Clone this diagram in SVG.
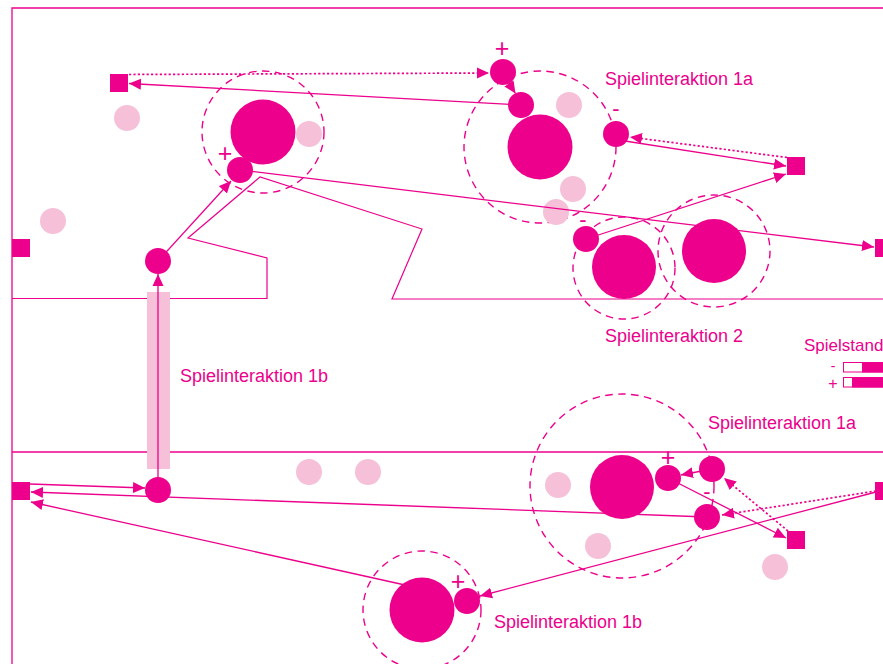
<svg xmlns="http://www.w3.org/2000/svg" width="883" height="664" viewBox="0 0 883 664">
<defs>
<style>
.ln{stroke:#EC008C;stroke-width:1.3;fill:none}
.dot{stroke:#EC008C;stroke-width:1.7;stroke-dasharray:2.2 2.2;fill:none}
.dc{stroke:#EC008C;stroke-width:1.4;stroke-dasharray:7.5 5.5;fill:none}
.pc{fill:#F6C1D8}
.mc{fill:#EC008C}
.lbl{font-family:"Liberation Sans",Arial,sans-serif;font-size:18px;fill:#EC008C}
.sg{font-family:"Liberation Sans",Arial,sans-serif;font-size:25px;fill:#EC008C;text-anchor:middle}
.mn{font-family:"Liberation Sans",Arial,sans-serif;font-size:22px;fill:#EC008C;text-anchor:middle}
.lg{font-family:"Liberation Sans",Arial,sans-serif;fill:#EC008C;text-anchor:middle}
.ar{marker-end:url(#ah)}
</style>
<marker id="ah" viewBox="0 0 12 12" refX="12" refY="6" markerWidth="12" markerHeight="12" markerUnits="userSpaceOnUse" orient="auto">
<path d="M0,0.5 L12,6 L0,11.5 z" fill="#EC008C"/>
</marker>
</defs>
<rect width="883" height="664" fill="#ffffff"/>

<g id="frame">
<path class="ln" d="M12,664 L12,8 L883,8"/>
<path class="ln" d="M12,452 L883,452"/>
<path d="M12,298.5 L267,298.5 L267,258 L188,238 L260,177 L422,229 L392,299 L883,299" fill="none" stroke="#EC008C" stroke-width="1.2"/>
</g>

<g id="bar1b"><rect x="147" y="292" width="23" height="177" fill="#F6C1D8"/></g>

<g id="zones">
<circle class="dc" cx="263" cy="132" r="61"/>
<circle class="dc" cx="540" cy="147" r="76"/>
<circle class="dc" cx="624" cy="268" r="51"/>
<circle class="dc" cx="714" cy="251" r="56"/>
<circle class="dc" cx="622" cy="486" r="92"/>
<circle class="dc" cx="422" cy="610" r="59"/>
</g>

<g id="pinks">
<circle class="pc" cx="127" cy="118" r="13"/>
<circle class="pc" cx="309" cy="134" r="13"/>
<circle class="pc" cx="53" cy="221" r="13"/>
<circle class="pc" cx="569" cy="105" r="13"/>
<circle class="pc" cx="573" cy="189" r="13"/>
<circle class="pc" cx="556" cy="212" r="13"/>
<circle class="pc" cx="309" cy="472" r="13"/>
<circle class="pc" cx="368" cy="472" r="13"/>
<circle class="pc" cx="558" cy="485" r="13"/>
<circle class="pc" cx="598" cy="546" r="13"/>
<circle class="pc" cx="775" cy="567" r="13"/>
</g>

<g id="connectors">
<line class="dot ar" x1="129" y1="74.5" x2="489" y2="73"/>
<line class="ln ar" x1="521" y1="105" x2="129" y2="83.5"/>
<line class="ln ar" x1="508" y1="82" x2="515.5" y2="93.5"/>
<line class="dot ar" x1="787" y1="157.5" x2="630" y2="137"/>
<line class="ln ar" x1="612" y1="139" x2="786" y2="166"/>
<line class="ln ar" x1="586" y1="239" x2="786" y2="174"/>
<line class="ln ar" x1="240" y1="170" x2="874" y2="247"/>
<line class="ln ar" x1="158" y1="261" x2="231" y2="181"/>
<line class="ln ar" x1="158" y1="490" x2="158" y2="274"/>
<line class="ln ar" x1="30" y1="484" x2="145" y2="488"/>
<line class="ln ar" x1="707" y1="517" x2="31" y2="492"/>
<line class="ln ar" x1="405" y1="585" x2="31" y2="502"/>
<line class="ln ar" x1="876" y1="492" x2="480" y2="596"/>
<line class="dot ar" x1="876" y1="491" x2="722" y2="515"/>
<line class="ln ar" x1="712" y1="469" x2="681" y2="475"/>
<line class="ln ar" x1="668" y1="478" x2="786" y2="538"/>
<line class="dot ar" x1="788" y1="531" x2="724" y2="478"/>
</g>

<g id="sq-tl"><rect class="mc" x="110" y="74" width="18" height="18"/></g>
<g id="sq-l1"><rect class="mc" x="12" y="239" width="18" height="18"/></g>
<g id="sq-tr"><rect class="mc" x="787" y="157" width="18" height="18"/></g>
<g id="sq-r1"><rect class="mc" x="875" y="239" width="18" height="18"/></g>
<g id="sq-bl"><rect class="mc" x="12" y="482" width="18" height="18"/></g>
<g id="sq-r2"><rect class="mc" x="875" y="482" width="18" height="18"/></g>
<g id="sq-br"><rect class="mc" x="787" y="531" width="18" height="18"/></g>

<g id="ball1"><circle class="mc" cx="263" cy="132" r="32.5"/></g>
<g id="ball2"><circle class="mc" cx="540" cy="147" r="32.5"/></g>
<g id="ball3"><circle class="mc" cx="624" cy="267" r="32"/></g>
<g id="ball4"><circle class="mc" cx="714" cy="251" r="32"/></g>
<g id="ball5"><circle class="mc" cx="622" cy="487" r="32"/></g>
<g id="ball6"><circle class="mc" cx="422" cy="610" r="32.5"/></g>

<g id="p1"><circle class="mc" cx="240" cy="170" r="13"/><text class="sg" x="225" y="162">+</text></g>
<g id="p2"><circle class="mc" cx="158" cy="261" r="13"/></g>
<g id="p3"><circle class="mc" cx="503" cy="72" r="13"/><text class="sg" x="502" y="57">+</text></g>
<g id="p4"><circle class="mc" cx="521" cy="105" r="13"/></g>
<g id="p5"><circle class="mc" cx="616" cy="134" r="13"/><text class="mn" x="616" y="116">-</text></g>
<g id="p6"><circle class="mc" cx="586" cy="239" r="13"/><text class="mn" x="583" y="227">-</text></g>
<g id="p7"><circle class="mc" cx="158" cy="490" r="13"/></g>
<g id="p8"><circle class="mc" cx="668" cy="478" r="13"/><text class="sg" x="668" y="466">+</text></g>
<g id="p9"><circle class="mc" cx="712" cy="469" r="13"/></g>
<g id="p10"><circle class="mc" cx="707" cy="517" r="13"/><text class="mn" x="707" y="499">-</text></g>
<g id="p11"><circle class="mc" cx="467" cy="601" r="13"/><text class="sg" x="458" y="590">+</text></g>

<g id="labels">
<text class="lbl" x="605" y="85">Spielinteraktion 1a</text>
<text class="lbl" x="605" y="342">Spielinteraktion 2</text>
<text class="lbl" x="180" y="382">Spielinteraktion 1b</text>
<text class="lbl" x="708" y="429">Spielinteraktion 1a</text>
<text class="lbl" x="494" y="628">Spielinteraktion 1b</text>
</g>

<g id="legend">
<text class="lbl" x="804" y="351" style="font-size:17px">Spielstand</text>
<text class="lg" x="833" y="370.5" style="font-size:14px">-</text>
<rect x="843.5" y="362.5" width="45" height="9.5" fill="#ffffff" stroke="#EC008C" stroke-width="1"/>
<rect class="mc" x="862" y="362" width="30" height="10.5"/>
<text class="lg" x="833" y="388.5" style="font-size:16px">+</text>
<rect x="843.5" y="377.5" width="45" height="9.5" fill="#ffffff" stroke="#EC008C" stroke-width="1"/>
<rect class="mc" x="852" y="377" width="40" height="10.5"/>
</g>
</svg>
